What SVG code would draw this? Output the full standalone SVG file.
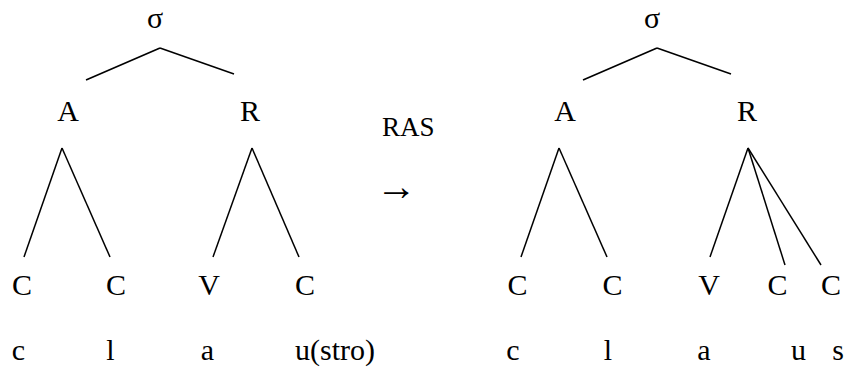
<svg xmlns="http://www.w3.org/2000/svg" width="854" height="367" viewBox="0 0 854 367" font-family="Liberation Serif, Times New Roman, serif" font-size="30">
<style>
.t{fill:#000;text-anchor:middle}
.e{stroke:#000;stroke-width:1.5;fill:none}
</style>
<rect width="854" height="367" fill="#fff"/>
<g id="connectors">
<line class="e" x1="160" y1="48" x2="86" y2="80"/>
<line class="e" x1="160" y1="48" x2="234" y2="74"/>
<line class="e" x1="62" y1="148" x2="24" y2="257"/>
<line class="e" x1="62" y1="148" x2="110" y2="257"/>
<line class="e" x1="252" y1="148" x2="213" y2="257"/>
<line class="e" x1="252" y1="148" x2="299" y2="257"/>
<line class="e" x1="657" y1="48" x2="583" y2="80"/>
<line class="e" x1="657" y1="48" x2="731" y2="74"/>
<line class="e" x1="559" y1="148" x2="521" y2="257"/>
<line class="e" x1="559" y1="148" x2="607" y2="257"/>
<line class="e" x1="748" y1="148" x2="710" y2="257"/>
<line class="e" x1="748" y1="148" x2="785" y2="265"/>
<line class="e" x1="748" y1="148" x2="821" y2="265"/>
</g>
<g id="left-sigma"><text class="t" x="155" y="28">σ</text></g>
<g id="left-A"><text class="t" x="68" y="121">A</text></g>
<g id="left-R"><text class="t" x="250" y="121">R</text></g>
<g id="left-C1"><text class="t" x="22" y="295">C</text></g>
<g id="left-C2"><text class="t" x="116" y="295">C</text></g>
<g id="left-V"><text class="t" x="209" y="295">V</text></g>
<g id="left-C3"><text class="t" x="305" y="295">C</text></g>
<g id="left-seg">
<text class="t" x="18.5" y="360">c</text>
<text class="t" x="110.5" y="360">l</text>
<text class="t" x="207.5" y="360">a</text>
<text x="295" y="360">u(stro)</text>
</g>
<g id="rule" font-size="27">
<text x="382" y="136">RAS</text>
<text x="376" y="200" font-size="41">→</text>
</g>
<g id="right-sigma"><text class="t" x="652" y="28">σ</text></g>
<g id="right-A"><text class="t" x="565" y="121">A</text></g>
<g id="right-R"><text class="t" x="747" y="121">R</text></g>
<g id="right-C1"><text class="t" x="517.5" y="295">C</text></g>
<g id="right-C2"><text class="t" x="612.5" y="295">C</text></g>
<g id="right-V"><text class="t" x="709" y="295">V</text></g>
<g id="right-C3"><text class="t" x="777.5" y="295">C</text></g>
<g id="right-C4"><text class="t" x="831" y="295">C</text></g>
<g id="right-seg">
<text class="t" x="513" y="360">c</text>
<text class="t" x="608" y="360">l</text>
<text class="t" x="704" y="360">a</text>
<text class="t" x="798.5" y="360">u</text>
<text class="t" x="838" y="360">s</text>
</g>
</svg>
